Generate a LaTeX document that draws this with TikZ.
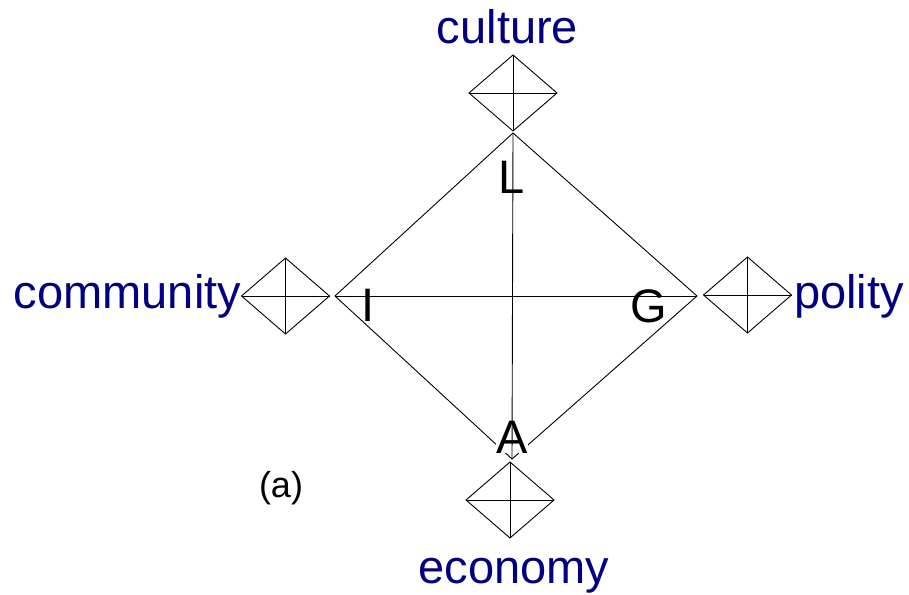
\documentclass[tikz,border=0pt]{standalone}
\usepackage{fontspec}
\setmainfont{Liberation Sans}
\usetikzlibrary{shapes.geometric}
\definecolor{labelblue}{RGB}{0,0,128}
\begin{document}
\begin{tikzpicture}[x=1pt,y=-1pt,
  smalldia/.style={diamond, draw, line width=0.9pt, inner sep=0pt, outer sep=0pt,
                   minimum width=88pt, minimum height=76pt},
  cross/.style={line width=0.9pt},
  edge/.style={line width=0.9pt},
  bluelabel/.style={text=labelblue, font=\fontsize{47}{50}\selectfont, anchor=base, inner sep=0pt},
  letter/.style={font=\fontsize{47}{50}\selectfont, anchor=base, inner sep=0pt},
  caption/.style={font=\fontsize{36}{40}\selectfont, anchor=base, inner sep=0pt}]
\useasboundingbox (0,0) rectangle (909,594);
% small diamonds
\node[smalldia] (dT) at (513,93) {};
\node[smalldia] (dL) at (285.5,296) {};
\node[smalldia] (dR) at (747.5,295) {};
\node[smalldia] (dB) at (510,500) {};
\foreach \d in {dT,dL,dR,dB}{
  \draw[cross] (\d.north) -- (\d.south);
  \draw[cross] (\d.west) -- (\d.east);
}
% big diamond
\coordinate (bT) at (513,133);
\coordinate (bL) at (335,296);
\coordinate (bR) at (697,296);
\coordinate (bB) at (512,459);
\draw[edge] (bT) -- (bR) -- (bB) -- (bL) -- cycle;
\node[letter, fill=white] (A) at (512,453) {A};
\draw[edge] (bL) -- (bR);
\draw[edge] (bT) -- (bB);
% letters
\node[letter] (L) at (512,193) {L};
\node[letter] (I) at (368.5,321) {I};
\node[letter] (G) at (649,322) {G};
% labels
\node[bluelabel] (culture) at (507.5,44) {culture};
\node[bluelabel] (community) at (127.5,308) {community};
\node[bluelabel] (polity) at (849,308) {polity};
\node[bluelabel] (economy) at (514,583) {economy};
\node[caption] (cap) at (281,497) {(a)};
\end{tikzpicture}
\end{document}
